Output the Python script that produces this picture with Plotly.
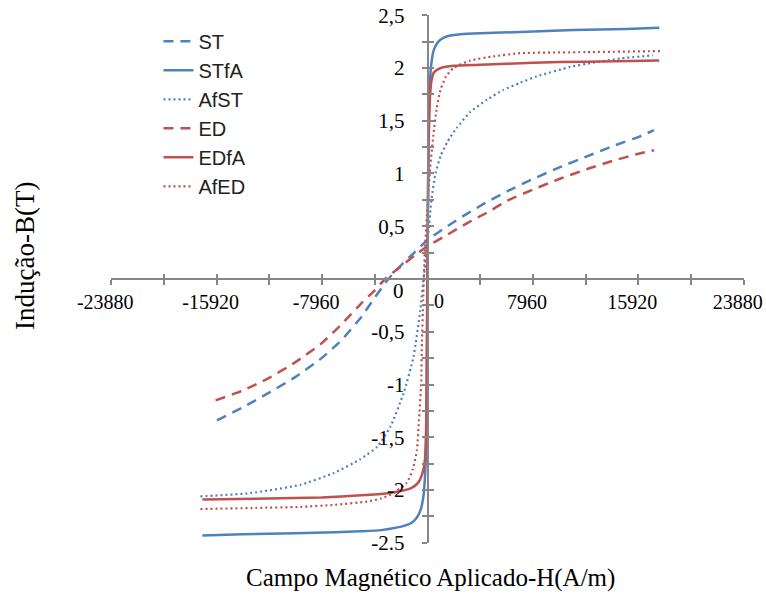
import plotly.graph_objects as go

# ---- data (H in A/m, B in T) ----
st_h = [-15900, -14000, -12000, -10000, -8000, -6500, -5000, -4000, -2960, -2000, -1000, 0,
        1500, 3000, 4500, 6000, 8000, 10000, 12000, 14000, 16000, 17100]
st_b = [-1.34, -1.22, -1.08, -0.93, -0.75, -0.58, -0.36, -0.18, 0.0, 0.13, 0.25, 0.37,
        0.50, 0.62, 0.73, 0.83, 0.95, 1.06, 1.16, 1.26, 1.35, 1.41]

stfa_h = [-17000, -14000, -10000, -7000, -5000, -3500, -2500, -1800, -1200, -800, -500, -300,
          -180, -100, -50, 0, 60, 120, 200, 300, 450, 700, 1000, 1500, 2500, 4000, 7000,
          11000, 15000, 17500]
stfa_b = [-2.43, -2.42, -2.41, -2.40, -2.39, -2.38, -2.36, -2.34, -2.31, -2.26, -2.18, -2.05,
          -1.85, -1.55, -1.0, 0.0, 1.0, 1.6, 1.9, 2.05, 2.16, 2.23, 2.27, 2.30, 2.32, 2.33, 2.34,
          2.36, 2.37, 2.38]

afst_h = [-17150, -13400, -9600, -7100, -5100, -3800, -2800, -1800, -1060, -550, -300, 0,
          300, 600, 1000, 1500, 2200, 3200, 4500, 5700, 7000, 8250, 10770, 12500, 14540, 17030]
afst_b = [-2.06, -2.03, -1.95, -1.84, -1.71, -1.59, -1.40, -1.08, -0.74, -0.30, 0.0, 0.35,
          0.75, 1.0, 1.17, 1.30, 1.43, 1.58, 1.70, 1.79, 1.86, 1.92, 2.01, 2.05, 2.09, 2.12]

ed_h = [-16000, -14000, -12000, -10000, -8000, -6500, -5000, -4000, -3200, -2000, -1000, 0,
        1500, 3000, 4500, 6000, 8000, 10000, 12000, 14000, 16000, 17100]
ed_b = [-1.15, -1.06, -0.94, -0.79, -0.61, -0.43, -0.23, -0.11, 0.0, 0.12, 0.22, 0.31,
        0.42, 0.53, 0.63, 0.74, 0.85, 0.95, 1.04, 1.12, 1.19, 1.22]

edfa_h = [-17000, -12000, -8000, -5000, -3000, -2000, -1200, -700, -400, -200, -100, -40, 0,
          50, 120, 200, 300, 450, 700, 1000, 2000, 4000, 8000, 12000, 17500]
edfa_b = [-2.09, -2.08, -2.07, -2.05, -2.03, -2.01, -1.98, -1.93, -1.85, -1.72, -1.4, -0.5, 0.3,
          1.0, 1.5, 1.75, 1.88, 1.95, 1.98, 2.0, 2.02, 2.03, 2.05, 2.06, 2.07]

afed_h = [-17150, -13000, -9600, -7000, -4570, -3500, -2590, -1560, -1100, -800, -650, -480,
          -420, -330, -200, 0, 200, 430, 700, 1000, 1400, 1960, 3220, 5000, 7000, 12000, 17550]
afed_b = [-2.18, -2.17, -2.16, -2.14, -2.11, -2.08, -2.03, -1.93, -1.80, -1.62, -1.35, -1.0,
          -0.6, -0.2, 0.25, 0.7, 1.05, 1.35, 1.62, 1.80, 1.92, 2.00, 2.07, 2.11, 2.14, 2.15, 2.16]

x_tickvals = [-23880, -19900, -15920, -11940, -7960, -3980, 0, 3980, 7960, 11940, 15920, 19900, 23880]
x_ticktext = ["-23880", "", "-15920", "", "-7960", "", "", "", "7960", "", "15920", "", "23880"]
y_tickvals = [2.5, 2.25, 2.0, 1.75, 1.5, 1.25, 1.0, 0.75, 0.5, 0.25, 0, -0.25, -0.5, -0.75,
              -1.0, -1.25, -1.5, -1.75, -2.0, -2.25, -2.5]
y_ticktext = ["2,5", "", "2", "", "1,5", "", "1", "", "0,5", "", "", "", "-0,5", "", "-1", "",
              "-1,5", "", "-2", "", "-2.5"]

BLUE = "#4F81BD"
RED = "#C0504D"
AXIS = "#868686"

series = [
    ("ST", st_h, st_b, BLUE, "10px,7px", 2.5),
    ("STfA", stfa_h, stfa_b, BLUE, "solid", 2.5),
    ("AfST", afst_h, afst_b, BLUE, "2px,3px", 2.2),
    ("ED", ed_h, ed_b, RED, "10px,7px", 2.5),
    ("EDfA", edfa_h, edfa_b, RED, "solid", 2.5),
    ("AfED", afed_h, afed_b, RED, "2px,3px", 2.2),
]

fig = go.Figure()
for name, h, b, col, dash, w in series:
    fig.add_trace(go.Scatter(x=h, y=b, mode="lines", name=name, legendgroup=name,
                             line=dict(color=col, dash=dash, width=w, shape="spline", smoothing=0.5)))

# invisible trace for the overlay axes (crossing ticks)
fig.add_trace(go.Scatter(x=[0], y=[0], xaxis="x2", yaxis="y2", mode="markers",
                         marker=dict(opacity=0), showlegend=False, hoverinfo="skip"))

xtickfont = dict(family="Liberation Serif", size=20, color="#000000")
ytickfont = dict(family="Liberation Serif", size=21, color="#000000")
XR = [-23900, 23900]
YR = [-2.502, 2.502]

fig.update_layout(
    width=766, height=601,
    margin=dict(l=111, r=22, t=15, b=58, autoexpand=False),
    paper_bgcolor="white", plot_bgcolor="white",
    xaxis=dict(range=XR, anchor="free", position=0.5, showgrid=False, zeroline=False,
               showline=True, linecolor=AXIS, linewidth=1.5, ticks="outside", ticklen=5,
               tickcolor=AXIS, tickwidth=1.5, tickvals=x_tickvals, ticktext=x_ticktext,
               tickfont=xtickfont, ticklabelstandoff=0, ticklabelshift=-6,
               ticklabeloverflow="allow", automargin=False),
    yaxis=dict(range=YR, anchor="free", position=0.5, showgrid=False, zeroline=False,
               showline=True, linecolor=AXIS, linewidth=1.5, ticks="outside", ticklen=5,
               tickcolor=AXIS, tickwidth=1.5, tickvals=y_tickvals, ticktext=y_ticktext,
               tickfont=ytickfont, ticklabelstandoff=13, automargin=False),
    xaxis2=dict(range=XR, overlaying="x", anchor="free", position=0.5, showgrid=False,
                zeroline=False, showline=False, ticks="inside", ticklen=5, tickcolor=AXIS,
                tickwidth=1.5, tickvals=x_tickvals, showticklabels=False),
    yaxis2=dict(range=YR, overlaying="y", anchor="free", position=0.5, showgrid=False,
                zeroline=False, showline=False, ticks="inside", ticklen=5, tickcolor=AXIS,
                tickwidth=1.5, tickvals=y_tickvals, showticklabels=False),
    legend=dict(x=0.075, y=0.987, xanchor="left", yanchor="top", bgcolor="rgba(0,0,0,0)",
                font=dict(family="Liberation Sans", size=20, color="#222222"),
                traceorder="grouped", tracegroupgap=0),
    showlegend=True,
    annotations=[
        dict(text="Campo Magnético Aplicado-H(A/m)", xref="paper", yref="paper", x=0.504, y=-0.066,
             xanchor="center", yanchor="middle", showarrow=False,
             font=dict(family="Liberation Serif", size=25, color="#000000")),
        dict(text="Indução-B(T)", xref="paper", yref="paper", x=-0.136, y=0.5436, textangle=-90,
             xanchor="center", yanchor="middle", showarrow=False,
             font=dict(family="Liberation Serif", size=27, color="#000000")),
        dict(text="0", xref="x", yref="y", x=-2200, y=-0.11, showarrow=False, font=ytickfont),
        dict(text="0", xref="x", yref="y", x=900, y=-0.21, showarrow=False, font=xtickfont),
    ],
)

fig.write_html("out.html")
